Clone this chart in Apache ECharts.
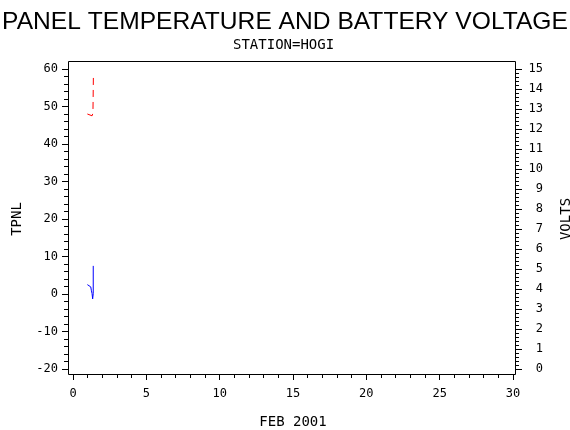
<!DOCTYPE html>
<html>
<head>
<meta charset="utf-8">
<script src="https://cdn.jsdelivr.net/npm/echarts@6/dist/echarts.min.js"></script>
<style>
  html, body { margin: 0; padding: 0; background: #fff; }
  #main { width: 570px; height: 430px; }
</style>
</head>
<body>
<div id="main"></div>
<script>
// panel temperature (left axis), [day of Feb 2001, deg]
var tpnlData = [[0.98, 2.5], [1.07, 2.1], [1.11, 2.8], [1.21, 1.9], [1.25, 1.0],
                [1.30, 0.1], [1.34, -1.3], [1.38, 0.1], [1.38, 7.5]];
// battery voltage (right axis), [day, volts]
var voltData = [[0.98, 12.75], [1.11, 12.68], [1.30, 12.66], [1.36, 12.8], [1.39, 14.6]];

var xRange = [0, 30, 5];     // min, max, step
var tpnlRange = [-20, 60, 10];
var voltRange = [0, 15, 1];

var monoFont = 'DejaVu Sans Mono';

var myChart = echarts.init(document.getElementById('main'));

var option = {
    animation: false,
    backgroundColor: '#fff',
    title: [{
        text: 'PANEL TEMPERATURE AND BATTERY VOLTAGE',
        left: 'center',
        top: 5,
        textStyle: {
            fontFamily: 'Liberation Sans',
            fontWeight: 'normal',
            fontSize: 24.6,
            color: '#000'
        }
    }, {
        text: 'STATION=HOGI',
        left: 228,
        top: 33,
        textStyle: {
            fontFamily: monoFont,
            fontWeight: 'normal',
            fontSize: 14,
            color: '#000'
        }
    }],
    grid: { left: 73, right: 57, top: 69, bottom: 61, outerBoundsMode: 'none', containLabel: false },
    // plot frame
    graphic: [{
        type: 'rect',
        shape: { x: 68.5, y: 61.5, width: 447, height: 313 },
        style: { fill: null, stroke: '#000', lineWidth: 1 },
        silent: true
    }],
    xAxis: {
        type: 'value',
        min: xRange[0], max: xRange[1], interval: xRange[2],
        offset: 5,
        name: 'FEB 2001',
        nameLocation: 'middle',
        nameGap: 41,
        nameTextStyle: { fontFamily: monoFont, fontSize: 14, color: '#000' },
        axisLine: { show: false, onZero: false },
        axisTick: { show: true, length: 6, lineStyle: { color: '#000' } },
        minorTick: { show: true, splitNumber: 5, length: 4, lineStyle: { color: '#000' } },
        axisLabel: { margin: 14, fontFamily: monoFont, fontSize: 12, color: '#000' },
        splitLine: { show: false }
    },
    yAxis: [{
        type: 'value',
        position: 'left',
        min: tpnlRange[0], max: tpnlRange[1], interval: tpnlRange[2],
        offset: 5,
        name: 'TPNL',
        nameLocation: 'middle',
        nameRotate: 90,
        nameGap: 44,
        nameTextStyle: { fontFamily: monoFont, fontSize: 14, color: '#000' },
        axisLine: { show: false, onZero: false },
        axisTick: { show: true, length: 6, lineStyle: { color: '#000' } },
        minorTick: { show: true, splitNumber: 5, length: 4, lineStyle: { color: '#000' } },
        axisLabel: { margin: 10, fontFamily: monoFont, fontSize: 12, color: '#000' },
        splitLine: { show: false }
    }, {
        type: 'value',
        position: 'right',
        min: voltRange[0], max: voltRange[1], interval: voltRange[2],
        offset: 2,
        name: 'VOLTS',
        nameLocation: 'middle',
        nameRotate: 90,
        nameGap: 44,
        nameTextStyle: { fontFamily: monoFont, fontSize: 14, color: '#000' },
        axisLine: { show: false, onZero: false },
        axisTick: { show: true, length: 7, lineStyle: { color: '#000' } },
        minorTick: { show: true, splitNumber: 5, length: 4, lineStyle: { color: '#000' } },
        axisLabel: { margin: 28, align: 'right', fontFamily: monoFont, fontSize: 12, color: '#000' },
        splitLine: { show: false }
    }],
    series: [{
        name: 'TPNL',
        type: 'line',
        yAxisIndex: 0,
        data: tpnlData,
        showSymbol: false,
        lineStyle: { color: '#0000ff', width: 1 }
    }, {
        name: 'VOLTS',
        type: 'line',
        yAxisIndex: 1,
        data: voltData,
        showSymbol: false,
        lineStyle: { color: '#ff0000', width: 1, type: [7, 5] }
    }]
};
myChart.setOption(option);
</script>
</body>
</html>
